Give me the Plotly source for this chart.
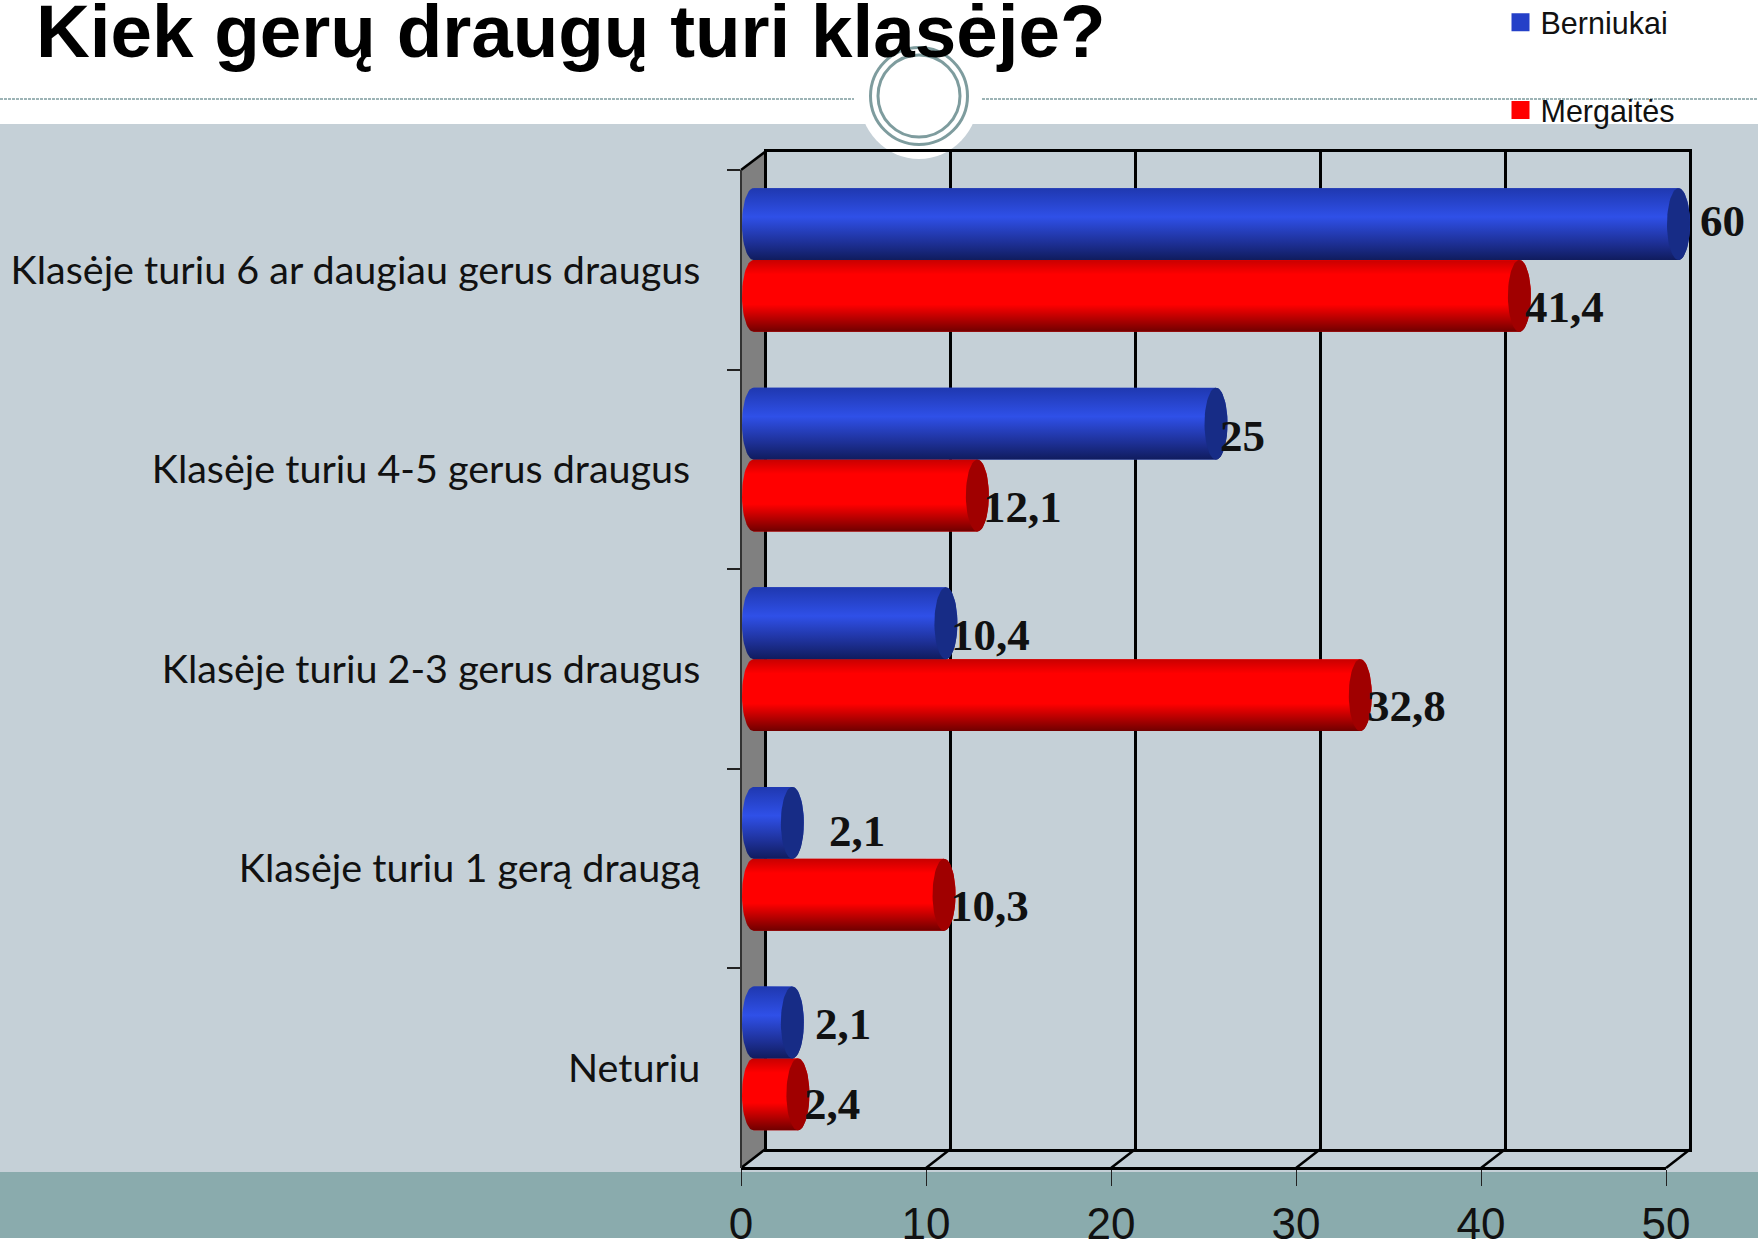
import numpy as np
import plotly.graph_objects as go

# ---------- data ----------
categories = ["Klasėje turiu 6 ar daugiau gerus draugus", "Klasėje turiu 4-5 gerus draugus\u00a0",
              "Klasėje turiu 2-3 gerus draugus", "Klasėje turiu 1 gerą draugą", "Neturiu"]
berniukai = [60, 25, 10.4, 2.1, 2.1]
mergaites = [41.4, 12.1, 32.8, 10.3, 2.4]
berniukai_labels = ["60", "25", "10,4", "2,1", "2,1"]
mergaites_labels = ["41,4", "12,1", "32,8", "10,3", "2,4"]
x_ticks = [0, 10, 20, 30, 40, 50]
title_text = "Kiek gerų draugų turi klasėje?"

# ---------- layout constants (pixels in the 1758x1248 page) ----------
W, H = 1758, 1248
PX_PER_UNIT = 18.5
AXIS_MAX = 50
FRONT_X0, BACK_X0, BAR_X0 = 741, 765.5, 753.5
FRONT_TOP, FRONT_BOT = 170, 1168
BACK_TOP, BACK_BOT = 151.5, 1149
BAND = (FRONT_BOT - FRONT_TOP) / len(categories)
BAR_CENTER0 = 260
BAR_W = 0.36
CAP_RX = 11.5
BLUE, RED = "#2440C8", "#FF0000"
BLUE_CAP, RED_CAP = "#172C86", "#A00000"
BLUE_GRAD = [[0, "#1F38B0"], [0.4, "#2F50E8"], [0.75, "#1E3199"], [1, "#101C5E"]]
RED_GRAD = [[0, "#C80000"], [0.2, "#FF0000"], [0.62, "#FF0000"], [1, "#700000"]]
LABEL_FONT = dict(family="Liberation Serif", size=45, color="#111111")
blue_label_dx = [43.5, 26, 45, 64.6, 51]
blue_label_dy = [-3, 12, 12, 8, 2]
red_label_dx = [45, 45, 46, 45, 34]
red_label_dy = [11, 11, 11, 11, 10]
GRID_PAD = 0.1  # axis units beyond 0 and 50 so the end grid lines are drawn

fx = lambda p: p / W
fy = lambda p: 1 - p / H

n = len(categories)
idx = np.arange(n)
clipped = lambda v: np.minimum(np.array(v, dtype=float), AXIS_MAX)

fig = go.Figure()

# back wall grid (xy)
fig.add_trace(go.Scatter(x=[None], y=[None], xaxis="x", yaxis="y", showlegend=False, hoverinfo="skip"))
# front axes (x2y2): tick labels and categories
fig.add_trace(go.Scatter(x=[0], y=[categories[0]], xaxis="x2", yaxis="y2", mode="markers",
                         marker=dict(opacity=0), showlegend=False, hoverinfo="skip"))

# real bars (x3y3)
for name, vals, col in (("Berniukai", berniukai, BLUE), ("Mergaitės", mergaites, RED)):
    fig.add_trace(go.Bar(x=clipped(vals), y=categories, orientation="h", name=name, marker=dict(color=col, line=dict(width=0)),
                         xaxis="x3", yaxis="y3", showlegend=False, customdata=vals, hovertemplate="%{y}: %{customdata}<extra>" + name + "</extra>"))


def cylinder(v, yc):
    """Outline of a rounded bar, in x3/y4 data units."""
    rx = CAP_RX / PX_PER_UNIT
    t = np.linspace(np.pi / 2, 3 * np.pi / 2, 30)
    xl = rx * np.cos(t)
    yl = yc + (BAR_W / 2) * np.sin(t)
    t2 = np.linspace(3 * np.pi / 2, 5 * np.pi / 2, 30)
    xr = v + rx * np.cos(t2)
    yr = yc + (BAR_W / 2) * np.sin(t2)
    return np.r_[xl, xr, xl[0]], np.r_[yl, yr, yl[0]]


def cap(v, yc):
    rx = CAP_RX / PX_PER_UNIT
    t = np.linspace(0, 2 * np.pi, 60)
    return v + rx * np.cos(t), yc + (BAR_W / 2) * np.sin(t)


for vals, grad, capcol, off in ((mergaites, RED_GRAD, RED_CAP, BAR_W / 2), (berniukai, BLUE_GRAD, BLUE_CAP, -BAR_W / 2)):
    v = clipped(vals)
    for i in idx:
        xs, ys = cylinder(v[i], i + off)
        fig.add_trace(go.Scatter(x=xs, y=ys, xaxis="x3", yaxis="y4", mode="lines", line=dict(width=0), fill="toself",
                                 fillgradient=dict(type="vertical", colorscale=[[1 - c[0], c[1]] for c in grad][::-1]),
                                 showlegend=False, hoverinfo="skip"))
        xs, ys = cap(v[i], i + off)
        fig.add_trace(go.Scatter(x=xs, y=ys, xaxis="x3", yaxis="y4", mode="lines", line=dict(width=0), fill="toself",
                                 fillcolor=capcol, showlegend=False, hoverinfo="skip"))

# legend entries
for i, (name, col) in enumerate((("Berniukai", BLUE), ("Mergaitės", RED))):
    fig.add_trace(go.Scatter(x=[None], y=[None], xaxis="x3", yaxis="y4", mode="markers", name=name, legendgroup=name,
                             marker=dict(symbol="square", size=16, color=col, line=dict(width=2, color=col))))

# shapes
shapes = []
def rect(x0, y0, x1, y1, col):
    shapes.append(dict(type="rect", xref="paper", yref="paper", x0=fx(x0), x1=fx(x1), y0=fy(y0), y1=fy(y1),
                       fillcolor=col, line=dict(width=0), layer="below"))
rect(0, 124, W, 1172, "#C5D0D7")
rect(0, 1172, W, 1238, "#8AABAD")
DASH = "#7E9C9E"
for a, b in ((0, 854), (982, W)):
    shapes.append(dict(type="line", xref="paper", yref="paper", x0=fx(a), x1=fx(b), y0=fy(99), y1=fy(99),
                       line=dict(color=DASH, width=1.5, dash="3px,1px"), layer="below"))
def circle(cx, cy, rx, ry, fill, lcol, lw):
    shapes.append(dict(type="circle", xref="paper", yref="paper", x0=fx(cx - rx), x1=fx(cx + rx), y0=fy(cy - ry), y1=fy(cy + ry),
                       fillcolor=fill, line=dict(color=lcol, width=lw), layer="below"))
circle(919, 96, 60, 63, "#FFFFFF", "#FFFFFF", 0)
circle(919, 96, 48.5, 48.5, "rgba(0,0,0,0)", DASH, 3)
circle(919, 96, 41, 41, "rgba(0,0,0,0)", DASH, 3)
# side wall
shapes.append(dict(type="path", xref="paper", yref="paper", layer="below", fillcolor="#808080", line=dict(width=0),
                   path=f"M{fx(FRONT_X0)},{fy(FRONT_TOP)} L{fx(BACK_X0)},{fy(BACK_TOP)} L{fx(BACK_X0)},{fy(BACK_BOT)} L{fx(FRONT_X0)},{fy(FRONT_BOT)} Z"))
def seg(x0, y0, x1, y1, w=2.5, col="#000000"):
    shapes.append(dict(type="line", xref="paper", yref="paper", x0=fx(x0), x1=fx(x1), y0=fy(y0), y1=fy(y1),
                       line=dict(color=col, width=w), layer="below"))
seg(FRONT_X0, FRONT_TOP, BACK_X0, BACK_TOP)
for t in x_ticks:
    off = t * PX_PER_UNIT
    seg(FRONT_X0 + off, FRONT_BOT, BACK_X0 + off, BACK_BOT)

# data labels
annotations = []
for vals, labs, dxs, dys, o in ((berniukai, berniukai_labels, blue_label_dx, blue_label_dy, -BAR_W / 2),
                                (mergaites, mergaites_labels, red_label_dx, red_label_dy, BAR_W / 2)):
    v = clipped(vals)
    for i in idx:
        annotations.append(dict(x=v[i], y=i + o, xref="x3", yref="y4", text=f"<b>{labs[i]}</b>", showarrow=False,
                                xshift=dxs[i], yshift=-dys[i], font=LABEL_FONT, xanchor="center", yanchor="middle"))

ax_off = dict(visible=False, showgrid=False, zeroline=False)
bar_x_range = [-BAR_X0 / PX_PER_UNIT, (W - BAR_X0) / PX_PER_UNIT]
bar_y_range = [(H - BAR_CENTER0) / BAND, -BAR_CENTER0 / BAND]
pad_px = GRID_PAD * PX_PER_UNIT

fig.update_layout(
    width=W, height=H, margin=dict(l=0, r=0, t=0, b=0, pad=0, autoexpand=False), autosize=False,
    paper_bgcolor="#FFFFFF", plot_bgcolor="rgba(0,0,0,0)",
    barmode="group", bargap=1 - 2 * BAR_W, bargroupgap=0,
    title=dict(text=f"<b>{title_text}</b>", x=36 / W, xanchor="left", y=fy(31), yanchor="middle", xref="paper", yref="paper",
               font=dict(family="Liberation Sans", size=74.6, color="#000000")),
    shapes=shapes, annotations=annotations,
    showlegend=True,
    legend=dict(x=fx(1500.5), y=fy(-4), xanchor="left", yanchor="top", bgcolor="rgba(0,0,0,0)", tracegroupgap=45,
                font=dict(family="Liberation Sans", size=30.5, color="#111111"), itemclick=False, itemdoubleclick=False),
    xaxis=dict(domain=[fx(BACK_X0 - pad_px), fx(BACK_X0 + AXIS_MAX * PX_PER_UNIT + pad_px)], range=[-GRID_PAD, AXIS_MAX + GRID_PAD],
               tickvals=x_ticks, showticklabels=False,
               showgrid=True, gridcolor="#000000", gridwidth=2.5, zeroline=False, showline=True, linecolor="#000000", linewidth=2.5,
               mirror=True, ticks="", anchor="y", layer="below traces"),
    yaxis=dict(domain=[fy(BACK_BOT), fy(BACK_TOP)], range=[0, 1], showgrid=False, zeroline=False, showticklabels=False, ticks="",
               anchor="x", showline=False),
    xaxis2=dict(domain=[fx(FRONT_X0), fx(FRONT_X0 + AXIS_MAX * PX_PER_UNIT)], range=[0, AXIS_MAX], tickvals=x_ticks, ticktext=[str(t) for t in x_ticks],
                anchor="free", position=fy(FRONT_BOT), side="bottom", showgrid=False, zeroline=False, showline=True, linecolor="#000000", linewidth=2.5,
                ticks="outside", ticklen=16, tickwidth=1, tickcolor="#222222", ticklabelstandoff=0,
                tickfont=dict(family="Liberation Sans", size=44, color="#111111")),
    yaxis2=dict(domain=[fy(FRONT_BOT), fy(FRONT_TOP)], type="category", categoryorder="array", categoryarray=categories, range=[n - 0.5, -0.5],
                anchor="free", position=fx(FRONT_X0), side="left", showgrid=False, zeroline=False, showline=True, linecolor="#333333", linewidth=1.5,
                tickson="boundaries", ticks="outside", ticklen=13, tickwidth=1.5, tickcolor="#222222", ticklabelstandoff=32,
                tickfont=dict(family="Lato", size=39.5, color="#111111")),
    xaxis3=dict(domain=[0, 1], range=bar_x_range, anchor="y3", **ax_off),
    yaxis3=dict(domain=[0, 1], range=bar_y_range, type="category", categoryorder="array", categoryarray=categories, anchor="x3", **ax_off),
    yaxis4=dict(domain=[0, 1], range=bar_y_range, anchor="x3", overlaying="y3", **ax_off),
)
fig.write_html("out.html", config=dict(displayModeBar=False), post_script="document.body.style.margin='0';")
